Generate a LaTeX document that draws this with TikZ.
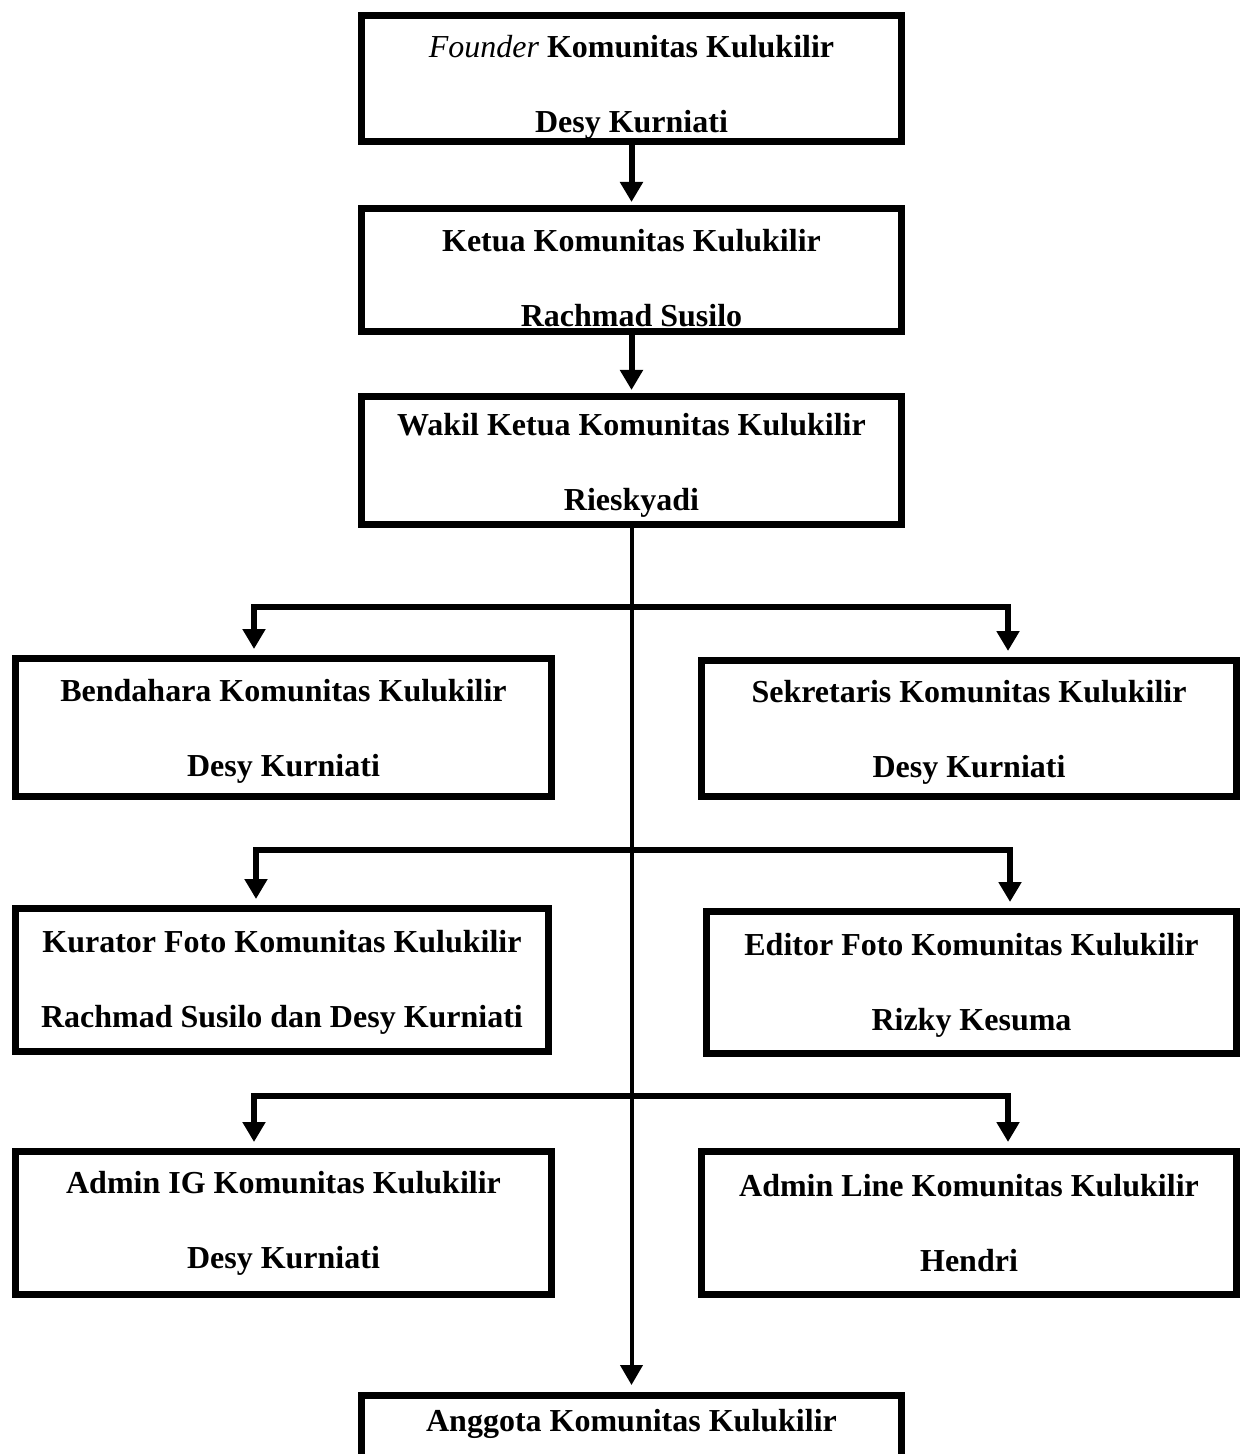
\documentclass[tikz,border=0pt]{standalone}
\usepackage{fontspec}
\setmainfont{Liberation Serif}
\usetikzlibrary{arrows.meta,positioning,calc}
\tikzset{
  >={Triangle[length=10pt,width=11pt]},
  every picture/.append style={line width=3pt},
}
\tikzset{
  box/.style={draw, line width=3.5pt, align=center, inner sep=0pt, minimum width=270pt, font=\fontsize{16}{37.5}\selectfont\bfseries},
  arrow/.style={->, line width=3pt, line join=miter}
}
% pushes the two text lines of a box a little lower
\newcommand{\lowr}[1]{\rule{0pt}{#1}}

\begin{document}
\begin{tikzpicture}[
  x=0.5pt, y=-0.5pt,
  trunk/.style={->, line width=2pt, shorten >=3.5pt}
]
\useasboundingbox (0,0) rectangle (1244,1454);

% --- Top chain ---
\node[box, minimum height=63pt] (founder) at (631.5,78.5) {\lowr{19.5pt}{\mdseries\itshape Founder} Komunitas Kulukilir\\Desy Kurniati};
\node[box, minimum height=61.5pt, below=30pt of founder] (ketua) {\lowr{19pt}Ketua Komunitas Kulukilir\\Rachmad Susilo};
\node[box, minimum height=64pt, below=29pt of ketua] (wakil) {\lowr{16pt}Wakil Ketua Komunitas Kulukilir\\Rieskyadi};

\draw[arrow, shorten >=1.5pt] (founder) -- (ketua);
\draw[arrow, shorten >=1.5pt] (ketua) -- (wakil);

% --- Pengurus (left / right) ---
\node[box, minimum width=268pt, minimum height=69pt] (bendahara) at (283.5,727.5) {\lowr{15pt}Bendahara Komunitas Kulukilir\\Desy Kurniati};
\node[box, minimum width=267.5pt, minimum height=68pt] (sekretaris) at (969,728.5) {\lowr{15pt}Sekretaris Komunitas Kulukilir\\Desy Kurniati};
\node[box, minimum width=266.5pt, minimum height=71.5pt] (kurator) at (282,980) {\lowr{13.5pt}Kurator Foto Komunitas Kulukilir\\Rachmad Susilo dan Desy Kurniati};
\node[box, minimum width=265pt, minimum height=71pt] (editor) at (971.5,982.5) {\lowr{13.5pt}Editor Foto Komunitas Kulukilir\\Rizky Kesuma};
\node[box, minimum width=268pt, minimum height=71.5pt] (adminig) at (283.5,1223) {Admin IG Komunitas Kulukilir\\Desy Kurniati};
\node[box, minimum width=267.5pt, minimum height=71.5pt] (adminline) at (969,1223) {Admin Line Komunitas Kulukilir\\Hendri};

% --- Anggota (runs off the page) ---
\node[box, anchor=north, inner ysep=6pt, text height=12pt, text depth=60pt] (anggota) at (631.5,1392) {Anggota Komunitas Kulukilir};

% Trunk
\draw[trunk] (wakil.south) -- (anggota.north);

% Branch lines
\coordinate (b1l) at (254,607);  \coordinate (b1r) at (1008,607);
\coordinate (b2l) at (256,850);  \coordinate (b2r) at (1010,850);
\coordinate (b3l) at (254,1096); \coordinate (b3r) at (1008,1096);

\draw[arrow, shorten >=3pt] (b1r) -- (b1l) -- (b1l |- bendahara.north);
\draw[arrow, shorten >=3pt] (b1l) -- (b1r) -- (b1r |- sekretaris.north);
\draw[arrow, shorten >=3pt] (b2r) -- (b2l) -- (b2l |- kurator.north);
\draw[arrow, shorten >=3pt] (b2l) -- (b2r) -- (b2r |- editor.north);
\draw[arrow, shorten >=3pt] (b3r) -- (b3l) -- (b3l |- adminig.north);
\draw[arrow, shorten >=3pt] (b3l) -- (b3r) -- (b3r |- adminline.north);

\end{tikzpicture}
\end{document}
